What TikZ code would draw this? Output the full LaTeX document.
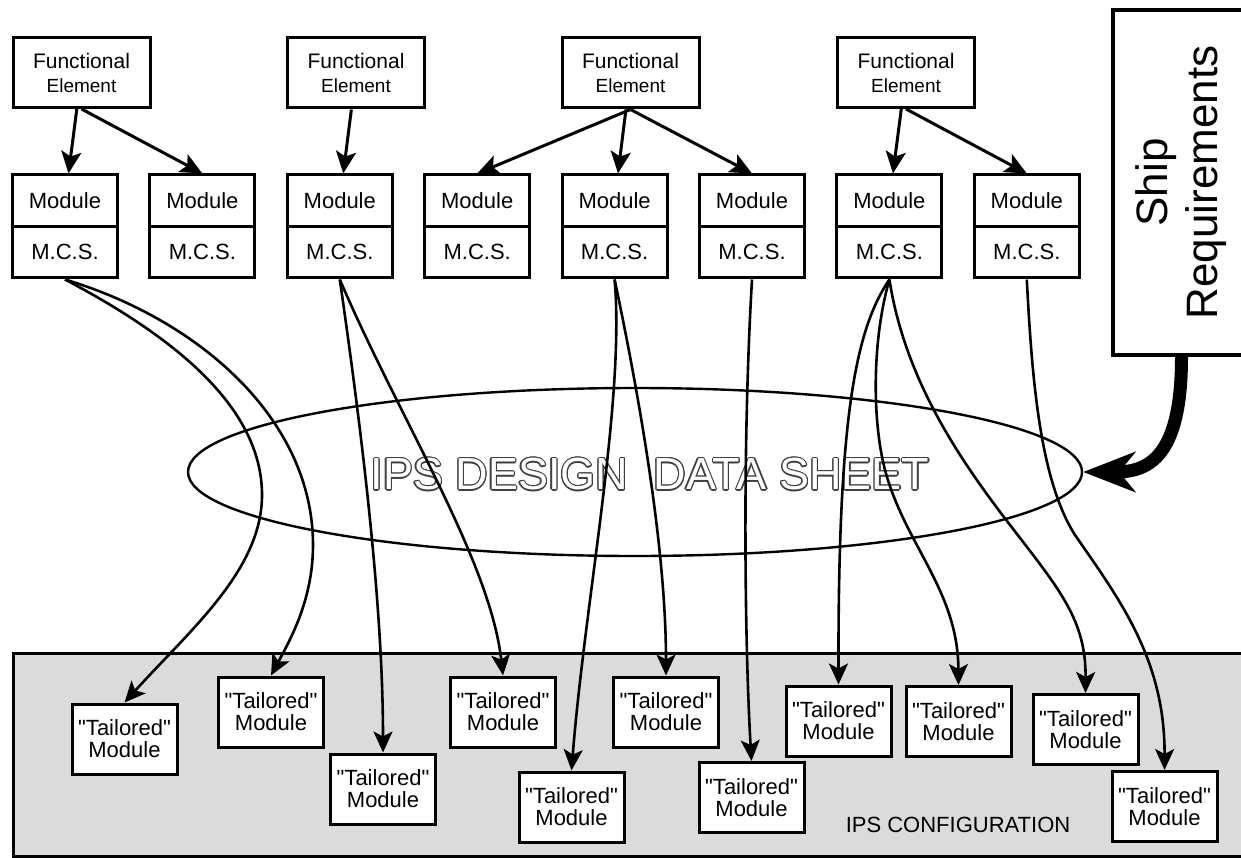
\documentclass[tikz,border=0pt]{standalone}
\usepackage{fontspec}
\setmainfont{Liberation Sans}
\usepackage{contour}
\usetikzlibrary{arrows.meta,shapes.geometric}
\contourlength{1.1pt}
\definecolor{configgray}{RGB}{219,219,219}
\newcommand{\tailtext}{\textquotedbl Tailored\textquotedbl\\Module}
\tikzset{
  felem/.style={draw, line width=3pt, fill=white, minimum width=137pt, minimum height=70pt, inner sep=0pt, align=center, font=\fontsize{21}{24}\selectfont},
  modbox/.style={draw, line width=3pt, fill=white, minimum width=105pt, minimum height=51.5pt, inner sep=0pt, font=\fontsize{22}{24}\selectfont},
  tailbox/.style={draw, line width=3pt, fill=white, minimum width=105pt, minimum height=70pt, inner sep=0pt, align=center, font=\fontsize{22}{22}\selectfont},
  shipbox/.style={draw, line width=4pt, fill=white, rotate=90, minimum width=345pt, minimum height=137pt, inner sep=0pt, align=center, font=\fontsize{44}{50}\selectfont},
  datasheet/.style={draw, ellipse, line width=2.4pt, minimum width=894pt, minimum height=168pt, inner sep=0pt},
  feed/.style={line width=3pt, -{Stealth[length=22pt, width=20pt, inset=5pt]}},
  tailor/.style={line width=2.6pt, -{Stealth[length=21pt, width=19pt, inset=5pt]}},
  reqarrow/.style={line width=13pt, -{Stealth[length=52pt, width=40pt, inset=16pt]}}
}

\begin{document}
\begin{tikzpicture}[x=1pt,y=-1pt]
    \useasboundingbox (0,0) rectangle (1241,858);
    % configuration area and data sheet
    \draw[line width=3pt, fill=configgray] (13,653) rectangle (1250,856);
    \node[font=\fontsize{22}{24}\selectfont] (config) at (958,825) {IPS CONFIGURATION};
    \node[datasheet] (sheet) at (635,472) {};
    \node[font=\fontsize{45}{48}\selectfont] (sheetlabel) at (650,475) {\contour{darkgray}{\textcolor{white}{IPS DESIGN\hspace{13pt} DATA SHEET}}};
    \path (81.5,72.5) node[felem](fe1) {Functional\\{\fontsize{19}{24}\selectfont Element}} (356,73) node[felem](fe2) {Functional\\{\fontsize{19}{24}\selectfont Element}} (630.5,73) node[felem](fe3) {Functional\\{\fontsize{19}{24}\selectfont Element}} (906,72.5) node[felem](fe4) {Functional\\{\fontsize{19}{24}\selectfont Element}};
    \path (65,200.75) node[modbox](mod1) {Module} (65,252.25) node[modbox](mcs1) {M.C.S.} (202.4,200.75) node[modbox](mod2) {Module} (202.4,252.25) node[modbox](mcs2) {M.C.S.} (339.8,200.75) node[modbox](mod3) {Module} (339.8,252.25) node[modbox](mcs3) {M.C.S.} (477.2,200.75) node[modbox](mod4) {Module} (477.2,252.25) node[modbox](mcs4) {M.C.S.};
    \path (614.6,200.75) node[modbox](mod5) {Module} (614.6,252.25) node[modbox](mcs5) {M.C.S.} (752,200.75) node[modbox](mod6) {Module} (752,252.25) node[modbox](mcs6) {M.C.S.} (889.4,200.75) node[modbox](mod7) {Module} (889.4,252.25) node[modbox](mcs7) {M.C.S.} (1026.8,200.75) node[modbox](mod8) {Module} (1026.8,252.25) node[modbox](mcs8) {M.C.S.};
    \node[shipbox] (ship) at (1181.5,182.5) {Ship\\Requirements};
    \path (124.5,739) node[tailbox](t1) {\tailtext} (271,712) node[tailbox](t2) {\tailtext} (383,789) node[tailbox](t3) {\tailtext} (503,712) node[tailbox](t4) {\tailtext} (571.5,807) node[tailbox](t5) {\tailtext} (666,712) node[tailbox](t6) {\tailtext};
    \path (751.5,797.5) node[tailbox](t7) {\tailtext} (838.5,721) node[tailbox](t8) {\tailtext} (958.5,721.5) node[tailbox](t9) {\tailtext} (1085.5,729.5) node[tailbox](t10) {\tailtext} (1164.5,806.5) node[tailbox](t11) {\tailtext};
    % functional elements to modules
    \draw[feed] (fe1) -- (mod1);
    \draw[feed] (fe1.south) -- (mod2.north);
    \draw[feed] (fe2) -- (mod3);
    \draw[feed] (fe3.south) -- (mod4.north);
    \draw[feed] (fe3) -- (mod5);
    \draw[feed] (fe3.south) -- (mod6.north);
    \draw[feed] (fe4) -- (mod7);
    \draw[feed] (fe4.south) -- (mod8.north);
    % modules through the data sheet
    \draw[tailor] (mcs1.south) .. controls (180,340) and (262,410) .. (262,495) .. controls (262,570) and (190,630) .. (t1.north);
    \draw[tailor] (mcs1.south) .. controls (200,320) and (313,420) .. (313,545) .. controls (313,600) and (290,640) .. (t2.north);
    \draw[tailor] (mcs3.south) .. controls (360,420) and (383,600) .. (t3.north);
    \draw[tailor] (mcs3.south) .. controls (400,420) and (490,560) .. (t4.north);
    \draw[tailor] (mcs5.south) .. controls (625,400) and (585,600) .. (t5.north);
    \draw[tailor] (mcs5.south) .. controls (640,400) and (666,550) .. (t6.north);
    \draw[tailor] (mcs6.south) .. controls (742,450) and (745,650) .. (t7.north);
    \draw[tailor] (mcs7.south) .. controls (855,330) and (838,420) .. (t8.north);
    \draw[tailor] (mcs7.south) .. controls (872,340) and (872,420) .. (885,470) .. controls (905,545) and (958,590) .. (t9.north);
    \draw[tailor] (mcs7.south) .. controls (905,380) and (960,460) .. (1010,525) .. controls (1060,590) and (1086,620) .. (t10.north);
    \draw[tailor] (mcs8.south) .. controls (1032,380) and (1040,480) .. (1075,535) .. controls (1120,600) and (1165,660) .. (t11.north);
    % ship requirements into the data sheet
    \draw[reqarrow] (ship.west) .. controls (1181.5,455) and (1150,472) .. (sheet.east);
\end{tikzpicture}
\end{document}
